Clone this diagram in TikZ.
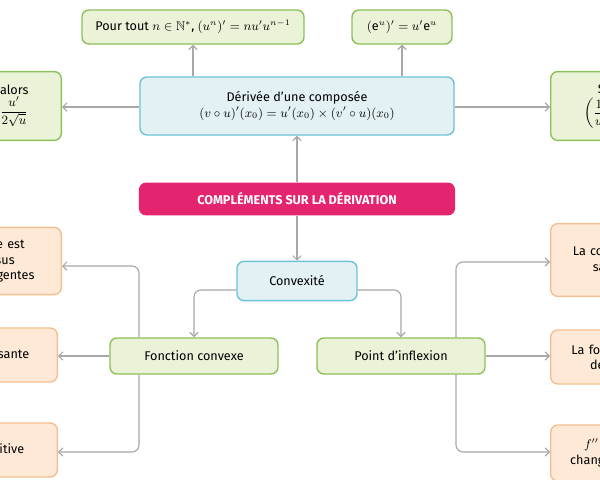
\documentclass[tikz,border=0pt]{standalone}
\usepackage{amsmath}
\usepackage{amssymb}
\usepackage{fontspec}
\setmainfont{Fira Sans}
\usetikzlibrary{arrows.meta,positioning}
\definecolor{vertfond}{HTML}{EAF2D8}
\definecolor{vertbord}{HTML}{8DC05A}
\definecolor{bleufond}{HTML}{E3F1F5}
\definecolor{bleubord}{HTML}{6CC3D5}
\definecolor{orfond}{HTML}{FDE9D6}
\definecolor{orbord}{HTML}{F4C08F}
\definecolor{rose}{HTML}{E5246F}
\definecolor{fleche}{HTML}{A8A8A8}
\tikzset{boite/.style={rectangle, rounded corners=5pt, line width=1pt, inner sep=3pt, font=\small, align=center},
  vert/.style={boite, draw=vertbord, fill=vertfond},
  bleu/.style={boite, draw=bleubord, fill=bleufond},
  orange/.style={boite, draw=orbord, fill=orfond},
  cote/.style={minimum width=3.8cm, text width=3.5cm},
  lien/.style={draw=fleche, line width=0.8pt, rounded corners=5pt, -{Straight Barb[length=3pt,width=6pt]}}}
\begin{document}
\begin{tikzpicture}[x=0.025cm,y=-0.025cm]
\useasboundingbox (0,0) rectangle (600,480);
\clip (0,0) rectangle (600,480);
% centre
\node[boite, fill=rose, text=white, font=\small\bfseries, minimum width=7.9cm, minimum height=0.82cm] (centre) at (297,199) {COMPLÉMENTS SUR LA DÉRIVATION};
\node[bleu, minimum width=7.85cm, minimum height=1.45cm] (compo) at (297,106) {Dérivée d’une composée\\ $(v\circ u)'(x_0)=u'(x_0)\times(v'\circ u)(x_0)$};
\node[vert, minimum width=5.55cm, minimum height=0.85cm] (puiss) at (193,27) {Pour tout $n\in\mathbb{N}^*$, $(u^n)'=nu'u^{n-1}$};
\node[vert, minimum width=2.5cm, minimum height=0.85cm] (expo) at (402,27) {$(\mathrm{e}^u)'=u'\mathrm{e}^u$};
\node[vert, cote, anchor=east, minimum height=1.72cm] (racine) at (62,106) {Si $u>0$ alors\\ $(\sqrt{u})'=\dfrac{u'}{2\sqrt{u}}$};
\node[vert, cote, anchor=west, minimum height=1.72cm] (inverse) at (550,106) {Si $u\neq0$\\ $\left(\dfrac{1}{u}\right)'=-\dfrac{u'}{u^2}$};
% convexite
\node[bleu, minimum width=3cm, minimum height=0.98cm] (convex) at (297,281) {Convexité};
\node[vert, minimum width=4.2cm, minimum height=0.9cm] (fconv) at (194,356) {Fonction convexe};
\node[vert, minimum width=4.2cm, minimum height=0.9cm] (infl) at (401,356) {Point d’inflexion};
\node[orange, cote, anchor=east, minimum height=1.68cm] (tang) at (62,261) {La courbe est au-dessus\\ de ses tangentes};
\node[orange, cote, anchor=east, minimum height=1.35cm] (crois) at (58,355) {$f'$ est croissante};
\node[orange, cote, anchor=east, minimum height=1.35cm] (posit) at (58,450) {$f''$ est positive};
\node[orange, cote, anchor=west, minimum height=1.82cm] (traverse) at (550,260) {La courbe traverse\\ sa tangente};
\node[orange, cote, anchor=west, minimum height=1.35cm] (change) at (550,357) {La fonction change\\ de convexité};
\node[orange, cote, anchor=west, minimum height=1.4cm] (signe) at (550,453) {$f''$ s’annule en\\ changeant de signe};
% liens
\draw[lien] (centre) -- (compo);
\draw[lien] (centre) -- (convex);
\draw[lien] (compo.north -| puiss) -- (puiss);
\draw[lien] (compo.north -| expo) -- (expo);
\draw[lien] (compo.west |- 0,107) -- (racine.east |- 0,107);
\draw[lien] (compo.east |- 0,107) -- (inverse.west |- 0,107);
\draw[lien] (convex.west |- 0,290) -| (fconv);
\draw[lien] (convex.east |- 0,290) -| (infl);
\draw[lien] (fconv) -- (crois.east |- fconv);
\draw[lien] (fconv.north -| 139,0) |- (tang.east |- 0,266);
\draw[lien] (fconv.south -| 139,0) |- (posit.east |- 0,452);
\draw[lien] (infl) -- (change.west |- infl);
\draw[lien] (infl.north -| 456,0) |- (traverse.west |- 0,262);
\draw[lien] (infl.south -| 456,0) |- (signe.west |- 0,452);
\end{tikzpicture}
\end{document}
